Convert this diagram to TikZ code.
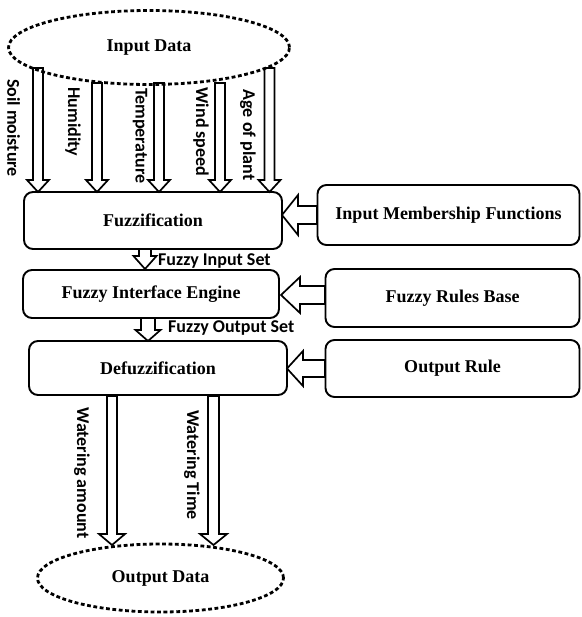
\documentclass[tikz,border=0pt]{standalone}
\usepackage{fontspec}
\setmainfont{Liberation Serif}
\newfontfamily\lblfont{Carlito}
\tikzset{
  box/.style={draw, line width=1.9pt, rounded corners=9pt, font=\fontsize{18}{20}\selectfont\bfseries, inner sep=0pt},
  oval/.style={draw, ellipse, line width=2.8pt, dash pattern=on 3.8pt off 2.6pt, font=\fontsize{18}{20}\selectfont\bfseries, inner sep=0pt},
  arr/.style={draw, line width=1.7pt, fill=white, line join=miter},
  vlbl/.style={font=\lblfont\fontsize{18}{20}\selectfont\bfseries, rotate=-90, inner sep=0pt},
  hlbl/.style={font=\lblfont\fontsize{18}{20}\selectfont\bfseries, inner sep=0pt, anchor=west},
}
\usetikzlibrary{shapes.geometric}
% down arrow: x, ytop, yheadbase, ytip, shaft half width, head half width
\newcommand\dnarr[6]{\draw[arr] (#1-#5,#2) -- (#1-#5,#3) -- (#1-#6,#3) -- (#1,#4) -- (#1+#6,#3) -- (#1+#5,#3) -- (#1+#5,#2) -- cycle;}
% left arrow: y, xend (right), xheadbase, xtip, shaft half, head half
\newcommand\lfarr[6]{\draw[arr] (#2,#1-#5) -- (#3,#1-#5) -- (#3,#1-#6) -- (#4,#1) -- (#3,#1+#6) -- (#3,#1+#5) -- (#2,#1+#5) -- cycle;}
\begin{document}
\begin{tikzpicture}[x=1pt,y=-1pt]
\useasboundingbox (0,0) rectangle (581,617);
% boxes
\node[box, minimum width=258pt, minimum height=57pt] (fuzz) at (153,220.5) {Fuzzification};
\node[box, minimum width=256pt, minimum height=48pt] (fie) at (151,294) {Fuzzy Interface Engine};
\node[box, minimum width=258pt, minimum height=54pt] (defuzz) at (158,368) {Defuzzification};
\node[box, minimum width=262pt, minimum height=60pt] (imf) at (448.5,215) {Input Membership Functions};
\node[box, minimum width=254pt, minimum height=58pt] (frb) at (452.5,298) {Fuzzy Rules Base};
\node[box, minimum width=254pt, minimum height=57pt] (orule) at (452.5,368.5) {Output Rule};
% input arrows
\dnarr{38}{68}{180}{192}{5}{11}
\dnarr{97}{83}{180}{192}{5}{11}
\dnarr{159}{83}{180}{192}{5}{11}
\dnarr{220}{83}{180}{192}{5}{11}
\dnarr{269.5}{68}{180}{192}{5}{11}
% between boxes
\dnarr{145}{249}{256}{269}{6}{11.5}
\dnarr{148}{318}{330}{341}{7}{12.5}
% from right boxes
\lfarr{215}{317}{298}{282}{9}{20}
\lfarr{295}{325}{300}{281}{9}{18}
\lfarr{368.5}{325}{303}{287}{8.5}{17.5}
% output arrows
\dnarr{112}{396}{534}{545}{5}{13}
\dnarr{213.5}{396}{534}{545}{5.5}{13.5}
% ellipses
\node[oval, minimum width=281pt, minimum height=74pt] (in) at (149,47.5) {Input Data};
\node[oval, minimum width=246pt, minimum height=68pt] (out) at (160.5,578) {Output Data};
% labels
\node[vlbl] (l1) at (13.5,128) {Soil moisture};
\node[vlbl] (l2) at (73,122) {Humidity};
\node[vlbl] (l3) at (140,136) {Temperature};
\node[vlbl] (l4) at (201,132) {Wind speed};
\node[vlbl] (l5) at (248,135) {Age of plant};
\node[hlbl] (fis) at (158,261) {Fuzzy Input Set};
\node[hlbl] (fos) at (168,328) {Fuzzy Output Set};
\node[vlbl] (wa) at (82,473) {Watering amount};
\node[vlbl] (wt) at (192,465) {Watering Time};
\end{tikzpicture}
\end{document}
